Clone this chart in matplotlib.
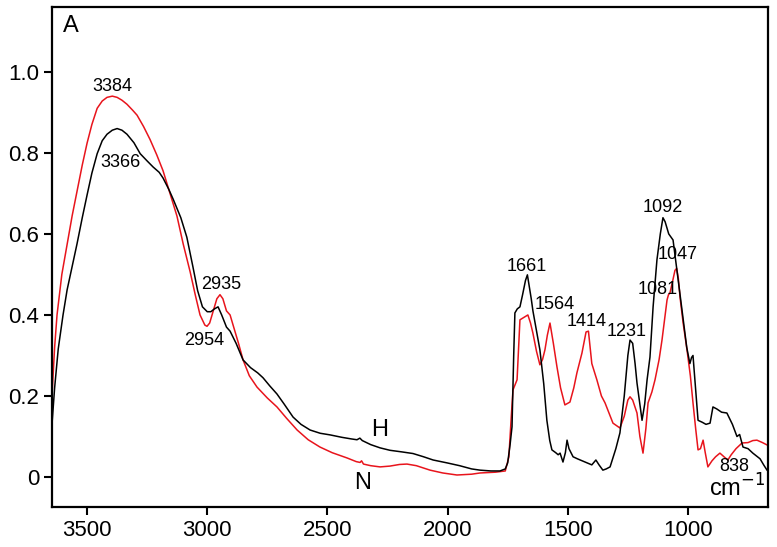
import matplotlib
matplotlib.use("Agg")
import matplotlib.pyplot as plt
from matplotlib import font_manager

plt.rcParams['font.family'] = ['Liberation Sans', 'DejaVu Sans']

# the tick labels in the picture are narrow and tall
names = {f.name for f in font_manager.fontManager.ttflist}
if 'Liberation Sans Narrow' in names:
    tick_font, tick_size = 'Liberation Sans Narrow', 20
else:
    tick_font, tick_size = 'Liberation Sans', 16

# sample H (black)
wn_h = [3646, 3635, 3620, 3600, 3583, 3562, 3542, 3520, 3500, 3480, 3458, 3437, 3417, 3395,
        3375, 3355, 3334, 3305, 3279, 3250, 3225, 3200, 3184, 3160, 3142, 3110, 3085, 3060,
        3040, 3020, 3000, 2985, 2970, 2955, 2940, 2920, 2905, 2880, 2851, 2820, 2790, 2768,
        2740, 2710, 2680, 2643, 2610, 2572, 2530, 2489, 2440, 2400, 2377, 2365, 2355, 2320,
        2281, 2240, 2190, 2144, 2100, 2060, 2003, 1950, 1900, 1865, 1820, 1782, 1760, 1750,
        1740, 1732, 1725, 1720, 1710, 1699, 1688, 1676, 1668, 1660, 1652, 1645, 1630, 1616,
        1600, 1587, 1575, 1566, 1550, 1540, 1532, 1520, 1510, 1503, 1495, 1478, 1460, 1440,
        1420, 1400, 1383, 1370, 1354, 1340, 1324, 1300, 1283, 1265, 1250, 1241, 1230, 1220,
        1212, 1200, 1191, 1180, 1170, 1158, 1145, 1129, 1115, 1104, 1095, 1080, 1062, 1046,
        1035, 1021, 1005, 992, 985, 979, 970, 958, 940, 925, 908, 896, 880, 860, 838, 815,
        796, 785, 771, 750, 730, 700, 685, 671, 667]
abs_h = [0.13, 0.22, 0.316, 0.40, 0.462, 0.52, 0.575, 0.64, 0.696, 0.75, 0.798, 0.83, 0.846, 0.856,
         0.86, 0.856, 0.846, 0.825, 0.798, 0.78, 0.765, 0.752, 0.738, 0.71, 0.686, 0.64, 0.592, 0.52,
         0.46, 0.42, 0.408, 0.408, 0.415, 0.42, 0.40, 0.37, 0.36, 0.33, 0.289, 0.27, 0.257, 0.245,
         0.225, 0.205, 0.18, 0.148, 0.13, 0.116, 0.108, 0.104, 0.098, 0.094, 0.092, 0.096, 0.090, 0.08,
         0.072, 0.066, 0.062, 0.058, 0.05, 0.042, 0.035, 0.028, 0.02, 0.017, 0.015, 0.015, 0.02, 0.035,
         0.08, 0.124, 0.30, 0.405, 0.415, 0.42, 0.45, 0.485, 0.499, 0.47, 0.44, 0.41, 0.36, 0.314,
         0.23, 0.14, 0.09, 0.067, 0.06, 0.055, 0.059, 0.037, 0.06, 0.091, 0.07, 0.05, 0.045, 0.04,
         0.035, 0.03, 0.042, 0.03, 0.017, 0.02, 0.025, 0.07, 0.109, 0.20, 0.30, 0.338, 0.33, 0.28,
         0.232, 0.18, 0.14, 0.18, 0.24, 0.296, 0.42, 0.536, 0.60, 0.64, 0.63, 0.60, 0.585, 0.51,
         0.46, 0.395, 0.32, 0.28, 0.295, 0.30, 0.23, 0.14, 0.135, 0.13, 0.133, 0.173, 0.168, 0.16, 0.158, 0.13,
         0.10, 0.105, 0.074, 0.07, 0.059, 0.045, 0.03, 0.017, 0.015]

# sample N (red)
wn_n = [3646, 3635, 3625, 3605, 3583, 3562, 3542, 3520, 3500, 3480, 3458, 3437, 3417, 3395,
        3375, 3355, 3334, 3310, 3292, 3265, 3238, 3210, 3184, 3155, 3126, 3100, 3071, 3050,
        3030, 3010, 3001, 2990, 2975, 2960, 2947, 2935, 2920, 2905, 2890, 2870, 2851, 2825,
        2793, 2750, 2710, 2670, 2626, 2580, 2531, 2480, 2418, 2380, 2364, 2358, 2350, 2320,
        2281, 2240, 2200, 2169, 2130, 2073, 2020, 1961, 1900, 1865, 1800, 1760, 1745, 1735,
        1728, 1711, 1699, 1680, 1666, 1655, 1645, 1630, 1616, 1605, 1595, 1585, 1574, 1560,
        1545, 1530, 1512, 1491, 1475, 1462, 1441, 1424, 1414, 1400, 1379, 1360, 1345, 1312,
        1283, 1265, 1250, 1241, 1230, 1212, 1200, 1187, 1175, 1166, 1150, 1137, 1120, 1108,
        1095, 1087, 1081, 1075, 1065, 1054, 1047, 1040, 1033, 1020, 1004, 990, 979, 968,
        958, 948, 937, 928, 917, 900, 885, 867, 850, 834, 820, 800, 775, 750, 730, 713,
        690, 671, 667]
abs_n = [0.20, 0.32, 0.40, 0.50, 0.575, 0.645, 0.704, 0.77, 0.824, 0.87, 0.91, 0.928, 0.937, 0.94,
         0.937, 0.93, 0.92, 0.905, 0.893, 0.865, 0.833, 0.795, 0.756, 0.70, 0.644, 0.575, 0.506, 0.45,
         0.40, 0.375, 0.372, 0.38, 0.41, 0.44, 0.45, 0.44, 0.41, 0.40, 0.37, 0.33, 0.289, 0.25,
         0.222, 0.195, 0.173, 0.145, 0.116, 0.092, 0.074, 0.06, 0.047, 0.038, 0.036, 0.04, 0.032, 0.028,
         0.025, 0.027, 0.031, 0.032, 0.028, 0.017, 0.01, 0.005, 0.007, 0.01, 0.012, 0.015, 0.05, 0.15,
         0.215, 0.24, 0.388, 0.395, 0.40, 0.38, 0.355, 0.31, 0.277, 0.29, 0.314, 0.35, 0.38, 0.33,
         0.272, 0.22, 0.178, 0.185, 0.22, 0.257, 0.306, 0.358, 0.36, 0.28, 0.24, 0.20, 0.183, 0.133,
         0.121, 0.15, 0.19, 0.198, 0.19, 0.158, 0.10, 0.059, 0.12, 0.183, 0.21, 0.24, 0.29, 0.338,
         0.40, 0.437, 0.45, 0.454, 0.48, 0.51, 0.515, 0.49, 0.444, 0.38, 0.314, 0.25, 0.183, 0.12,
         0.067, 0.07, 0.091, 0.06, 0.025, 0.04, 0.05, 0.059, 0.05, 0.042, 0.055, 0.07, 0.084, 0.085, 0.09, 0.091,
         0.085, 0.079, 0.078]

# peak labels: (text, wavenumber, absorbance)
peak_text = ['3384', '3366', '2935', '2954', '1661', '1564', '1414', '1231', '1092', '1047', '1081', '838']
peak_x = [3395, 3363, 2943, 3013, 1670, 1553, 1420, 1254, 1104, 1042, 1125, 809]
peak_y = [0.963, 0.776, 0.474, 0.338, 0.519, 0.427, 0.383, 0.36, 0.664, 0.548, 0.462, 0.025]

fig = plt.figure(figsize=(7.77, 5.47), dpi=100)
ax = fig.add_axes([0.0669, 0.0731, 0.9215, 0.9141])

ax.plot(wn_n, abs_n, color='#e8141c', lw=1.1)
ax.plot(wn_h, abs_h, color='black', lw=1.1)

for t, x, y in zip(peak_text, peak_x, peak_y):
    ax.text(x, y, t, ha='center', va='center', fontsize=13)

ax.text(2281, 0.116, 'H', ha='center', va='center', fontsize=17)
ax.text(2352, -0.015, 'N', ha='center', va='center', fontsize=17)
ax.text(0.015, 0.985, 'A', transform=ax.transAxes, ha='left', va='top', fontsize=17)
ax.text(0.997, 0.01, 'cm$^{-1}$', transform=ax.transAxes, ha='right', va='bottom', fontsize=17)

ax.set_xlim(3646, 667)
ax.set_ylim(-0.074, 1.16)
ax.set_xticks([3500, 3000, 2500, 2000, 1500, 1000])
ax.set_yticks([0, 0.2, 0.4, 0.6, 0.8, 1.0])
ax.set_yticklabels(['0', '0.2', '0.4', '0.6', '0.8', '1.0'])
ax.tick_params(direction='out', length=6, width=1.5, pad=3)
for lab in ax.get_xticklabels() + ax.get_yticklabels():
    lab.set_family(tick_font)
    lab.set_fontsize(tick_size)
for s in ax.spines.values():
    s.set_linewidth(1.6)

fig.savefig('out.png', dpi=100)
